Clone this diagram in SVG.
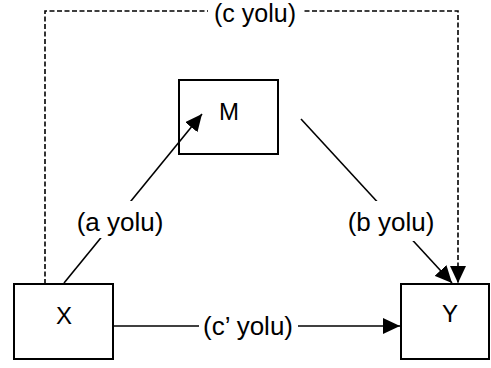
<svg xmlns="http://www.w3.org/2000/svg" width="491" height="368" viewBox="0 0 491 368">
<style>
.box{fill:#fff;stroke:#000;stroke-width:2}
.nt{font-family:"Liberation Sans",Arial,sans-serif;font-size:24px;fill:#000;text-anchor:middle}
.lbl{font-family:"Liberation Sans",Arial,sans-serif;font-size:26px;fill:#000;text-anchor:middle}
.ln{fill:none;stroke:#000;stroke-width:1.6}
.dash{stroke-dasharray:5 2.5}
.bg{fill:#fff}
</style>
<defs>
<marker id="ah" markerUnits="userSpaceOnUse" markerWidth="17" markerHeight="16" refX="17" refY="8" orient="auto">
<path d="M0,0 L17,8 L0,16 Z" fill="#000"/>
</marker>
</defs>
<rect width="491" height="368" fill="#fff"/>
<g id="node-M"><rect class="box" x="179" y="80" width="99" height="74"/><text class="nt" x="229" y="120">M</text></g>
<g id="node-X"><rect class="box" x="14" y="284" width="99" height="75"/><text class="nt" x="64" y="324">X</text></g>
<g id="node-Y"><rect class="box" x="401" y="284" width="88" height="75"/><text class="nt" x="450" y="322">Y</text></g>
<g id="connectors">
<path class="ln dash" d="M45,284 V11 H458 V283" marker-end="url(#ah)"/>
<path class="ln" d="M64,283 L202,114" marker-end="url(#ah)"/>
<path class="ln" d="M301,119 L452,283" marker-end="url(#ah)"/>
<path class="ln" d="M113,326 H400" marker-end="url(#ah)"/>
<rect class="bg" x="208" y="0" width="96" height="28"/>
<text class="lbl" x="255" y="22" style="font-size:25px">(c yolu)</text>
<rect class="bg" x="74" y="201" width="94" height="37"/>
<text class="lbl" x="120" y="231">(a yolu)</text>
<rect class="bg" x="343" y="201" width="96" height="40"/>
<text class="lbl" x="391" y="231">(b yolu)</text>
<rect class="bg" x="199" y="312" width="99" height="28"/>
<text class="lbl" x="248" y="335">(c’ yolu)</text>
</g>
</svg>
